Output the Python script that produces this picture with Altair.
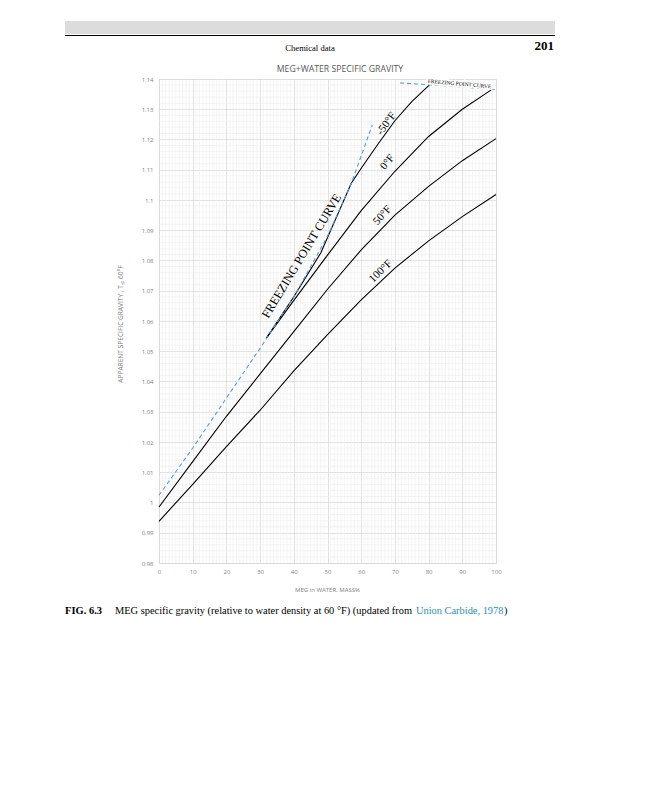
import altair as alt
import pandas as pd

# ---------------- data ----------------
X_DEC = [0, 10, 20, 30, 40, 50, 60, 70, 80, 90, 100]
SG_50F = [0.9985, 1.0135, 1.0285, 1.0425, 1.0565, 1.0705, 1.0835, 1.0950, 1.1045, 1.1130, 1.1203]
SG_100F = [0.9938, 1.0060, 1.0185, 1.0305, 1.0435, 1.0555, 1.0670, 1.0775, 1.0865, 1.0945, 1.1018]
X_0F = [31.9, 40, 50, 60, 70, 80, 90, 98.7]
SG_0F = [1.0544, 1.0668, 1.0818, 1.0965, 1.1095, 1.1210, 1.1300, 1.1365]
X_M50F = [57.1, 60, 65, 70, 75, 80.2]
SG_M50F = [1.1056, 1.1105, 1.1185, 1.1262, 1.1325, 1.1380]
X_FRZ = [31.9, 40, 48, 57.1]
SG_FRZ = [1.0544, 1.0680, 1.0825, 1.1056]
X_FRZ_DASH_LOW = [0, 10, 20, 30, 40, 50, 57.1, 63.3]
SG_FRZ_DASH_LOW = [1.0024, 1.0180, 1.0345, 1.0510, 1.0680, 1.0880, 1.1056, 1.1248]
X_FRZ_DASH_HIGH = [71.5, 85, 100]
SG_FRZ_DASH_HIGH = [1.1387, 1.1378, 1.1365]

X_TICKS = [0, 10, 20, 30, 40, 50, 60, 70, 80, 90, 100]
Y_TICKS = [0.98, 0.99, 1.0, 1.01, 1.02, 1.03, 1.04, 1.05, 1.06, 1.07, 1.08, 1.09, 1.1, 1.11, 1.12, 1.13, 1.14]

LABELS = ["-50°F", "0°F", "50°F", "100°F"]
LABEL_X = [67.5, 67.8, 66.3, 65.8]
LABEL_Y = [1.1252, 1.1125, 1.0949, 1.0764]
LABEL_ANGLE = [306, 310, 312, 316]

# ---------------- layout ----------------
W, H = 337, 484
PL, PT = 151, 71          # plot area at page (159, 79)
OX, OY = 159, 79


def vx(px):
    return px - OX


def vy(py):
    return py - OY


xs = alt.Scale(domain=[0, 100], nice=False, zero=False)
ys = alt.Scale(domain=[0.98, 1.14], nice=False, zero=False)

AX_X = alt.Axis(values=X_TICKS, grid=True, gridColor="#d9d9d9", gridWidth=0.8, domain=False,
                ticks=False, labelFontSize=6, labelColor="#7f7f7f", labelPadding=5,
                labelFont="Open Sans", labelFlush=False, labelOverlap=False, title=None)
AX_Y = alt.Axis(values=Y_TICKS, grid=True, gridColor="#d9d9d9", gridWidth=0.8, domain=False,
                ticks=False, labelFontSize=6, labelColor="#7f7f7f", labelPadding=6,
                labelFont="Open Sans", labelFlush=False, labelOverlap=False,
                format=".2~f", title=None)


def XE(field="x:Q"):
    return alt.X(field, scale=xs, axis=AX_X)


def YE(field="y:Q"):
    return alt.Y(field, scale=ys, axis=AX_Y)


rows = []
for name, xx, yy in [("50F", X_DEC, SG_50F), ("100F", X_DEC, SG_100F), ("0F", X_0F, SG_0F),
                     ("m50F", X_M50F, SG_M50F), ("frz", X_FRZ, SG_FRZ)]:
    for i, (a, b) in enumerate(zip(xx, yy)):
        rows.append({"s": name, "x": a, "y": b, "o": i})
solid_df = pd.DataFrame(rows)

drows = []
for name, xx, yy in [("low", X_FRZ_DASH_LOW, SG_FRZ_DASH_LOW), ("high", X_FRZ_DASH_HIGH, SG_FRZ_DASH_HIGH)]:
    for i, (a, b) in enumerate(zip(xx, yy)):
        drows.append({"s": name, "x": a, "y": b, "o": i})
dash_df = pd.DataFrame(drows)

minor_x = pd.DataFrame({"x": [i for i in range(101) if i % 10]})
minor_y = pd.DataFrame({"y": [round(0.98 + 0.002 * i, 3) for i in range(81) if i % 5]})

minor_v = alt.Chart(minor_x).mark_rule(color="#ececec", strokeWidth=0.6).encode(x=XE())
minor_h = alt.Chart(minor_y).mark_rule(color="#ececec", strokeWidth=0.6).encode(y=YE())

solid = alt.Chart(solid_df).mark_line(color="black", strokeWidth=1.1).encode(
    x=XE(), y=YE(), detail="s:N", order="o:Q")
dashed = alt.Chart(dash_df).mark_line(color="#5b9bd5", strokeWidth=1.1, strokeDash=[4, 3]).encode(
    x=XE(), y=YE(), detail="s:N", order="o:Q")

lab_layers = []
for t, a, b, ang in zip(LABELS, LABEL_X, LABEL_Y, LABEL_ANGLE):
    lab_layers.append(
        alt.Chart(pd.DataFrame({"t": [t], "x": [a], "y": [b]})).mark_text(
            font="Liberation Serif", fontSize=11, angle=ang, color="black").encode(
            x=XE(), y=YE(), text="t:N"))

frz_big = alt.Chart(pd.DataFrame({"t": ["FREEZING POINT CURVE"], "x": [42.3], "y": [1.0815]})).mark_text(
    font="Liberation Serif", fontSize=12.3, angle=301, color="black").encode(
    x=XE(), y=YE(), text="t:N")
small_df = pd.DataFrame({"t": ["FREEZING POINT CURVE"], "x": [89.2], "y": [1.1385]})
frz_small_halo = alt.Chart(small_df).mark_text(
    font="Liberation Serif", fontSize=5.5, angle=5, color="white", stroke="white", strokeWidth=3).encode(
    x=XE(), y=YE(), text="t:N")
frz_small = alt.Chart(small_df).mark_text(
    font="Liberation Serif", fontSize=5.5, angle=5, color="black").encode(
    x=XE(), y=YE(), text="t:N")


def page_text(t, px, py, size, font="Liberation Serif", weight="normal", color="black",
              align="center", angle=0):
    kw = dict(font=font, fontSize=size, fontWeight=weight, color=color, align=align, baseline="middle")
    if angle:
        kw["angle"] = angle
    return alt.Chart(pd.DataFrame({"t": [t]})).mark_text(**kw).encode(
        x=alt.value(vx(px)), y=alt.value(vy(py)), text="t:N")


header_bar = alt.Chart(pd.DataFrame({"a": [0]})).mark_rect(color="#dcdcdc").encode(
    x=alt.value(vx(65)), x2=alt.value(vx(555)), y=alt.value(vy(21)), y2=alt.value(vy(34)))
header_line = alt.Chart(pd.DataFrame({"a": [0]})).mark_rule(color="black", strokeWidth=1.2).encode(
    x=alt.value(vx(65)), x2=alt.value(vx(555)), y=alt.value(vy(35.5)))

texts = [
    page_text("Chemical data", 310, 48, 8.6),
    page_text("201", 554, 46, 13, weight="bold", align="right"),
    page_text("MEG+WATER SPECIFIC GRAVITY", 340, 69, 8.7, font="Open Sans", color="#595959"),
    page_text("MEG in WATER, MASS%", 327.5, 590, 6, font="Open Sans", color="#7f7f7f"),
    page_text("APPARENT SPECIFIC GRAVITY , Tₑₚ 60°F", 121, 324, 6.6, font="Open Sans",
              color="#7f7f7f", angle=270),
    page_text("FIG. 6.3", 65, 611, 10.5, weight="bold", align="left"),
    page_text("MEG specific gravity (relative to water density at 60 °F) (updated from", 115, 611, 10.4,
              align="left"),
    page_text("Union Carbide, 1978", 416, 611, 10.4, color="#2a8fbd", align="left"),
    page_text(")", 504, 611, 10.4, align="left"),
]

chart = alt.layer(
    minor_v, minor_h, solid, dashed, frz_big, frz_small_halo, frz_small, *lab_layers,
    header_bar, header_line, *texts
).properties(
    width=W, height=H,
    padding={"left": PL, "top": PT, "right": 130, "bottom": 200},
    autosize=alt.AutoSizeParams(type="none"),
).configure_axis(labelOverlap=False).configure_view(stroke=None).configure(background="white")

chart.save("out.html", embed_options={"renderer": "svg", "actions": False})
